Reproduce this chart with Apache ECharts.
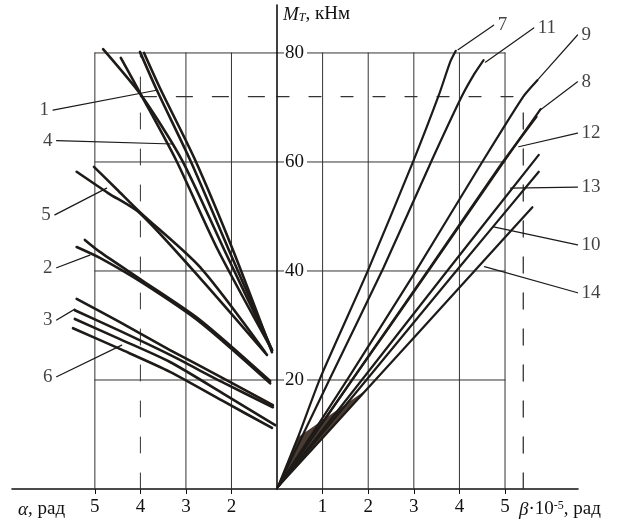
<!DOCTYPE html>
<html><head><meta charset="utf-8">
<script src="https://cdn.jsdelivr.net/npm/echarts@6/dist/echarts.min.js"></script>
<style>html,body{margin:0;padding:0;background:#fff}#c{width:618px;height:522px}</style>
</head><body><div id="c"></div>
<script>
// ---------------- data ----------------
const alphaTicks = [5, 4, 3, 2];          // α, рад (left half, values grow to the left)
const betaTicks  = [1, 2, 3, 4, 5];       // β·10^-5, рад (right half)
const mTicks     = [20, 40, 60, 80];      // M_T, кНм
const alphaGuide = 4;                     // dashed vertical on the α side
const betaGuide  = 5.4;                   // dashed vertical on the β side
const mGuide     = 72;                    // dashed horizontal level

// left half: [α, M]
const curve1a = [[4.01,80.2],[3.64,73.2],[2.91,60.4],[2.06,43.9],[1.11,25.5]];
const curve1b = [[3.92,80.0],[3.55,73.2],[2.80,60.4],[1.97,43.9],[1.11,25.1]];
const curve4a = [[4.82,80.7],[3.97,72.1],[3.09,60.4],[2.16,43.9],[1.11,25.5]];
const curve4b = [[4.43,79.1],[3.97,72.1],[3.22,60.4],[2.30,43.9],[1.11,25.5]];
const curve5a = [[5.40,58.2],[4.71,54.3],[4.01,50.6],[2.69,38.7],[1.22,24.6]];
const curve5b = [[5.02,59.1],[4.52,55.0],[4.01,50.8],[2.69,40.7],[1.26,25.1]];
const curve2a = [[5.40,44.4],[4.89,42.4],[3.95,37.8],[2.69,30.6],[1.15,19.4]];
const curve2b = [[5.22,45.7],[4.89,43.5],[3.95,38.2],[2.69,31.0],[1.15,19.8]];
const curve3a = [[5.40,34.9],[4.45,30.6],[3.35,25.5],[2.20,20.4],[1.09,15.4]];
const curve3b = [[5.44,32.8],[4.45,29.0],[3.35,24.6],[2.20,19.6],[1.09,15.0]];
const curve6a = [[5.44,31.2],[4.45,27.5],[3.35,23.3],[2.20,17.6],[1.04,11.7]];
const curve6b = [[5.48,29.5],[4.45,25.7],[3.35,21.5],[2.20,16.2],[1.11,11.2]];

// right half: [β, M]
const line7  = [[0.02,0.4],[0.46,9.5],[0.95,20.4],[2.00,40.2],[3.00,60.4],[3.55,72.3],[3.80,78.4],[3.92,80.4]];
const line11 = [[0.02,0.4],[1.18,20.6],[2.33,40.5],[3.40,60.4],[4.05,72.0],[4.33,76.2],[4.53,78.7]];
const line9  = [[0.02,0.4],[1.52,19.8],[3.03,39.8],[4.50,60.0],[5.40,72.0],[5.71,75.0]];
const line8  = [[0.02,0.4],[1.65,20.0],[3.32,40.0],[4.97,60.0],[5.78,69.7]];
const line12 = [[0.02,0.4],[1.61,19.6],[3.27,39.6],[4.90,59.4],[5.69,68.3]];
const line13 = [[0.02,0.4],[1.86,20.0],[3.73,40.0],[5.74,61.3]];
const line10 = [[0.02,0.4],[1.96,20.0],[3.93,40.0],[5.74,58.2]];
const line14 = [[0.02,0.4],[1.96,18.2],[4.33,40.0],[5.60,51.7]];

// curve labels with leader lines: label anchor -> point on curve
const leftNotes = [
  {name:'1', at:[5.92,69.5], to:[3.62,73.2]},
  {name:'4', at:[5.84,63.9], to:[3.29,63.3]},
  {name:'5', at:[5.88,50.3], to:[4.74,55.2]},
  {name:'2', at:[5.84,40.6], to:[5.11,42.9]},
  {name:'3', at:[5.84,31.0], to:[5.44,33.0]},
  {name:'6', at:[5.84,20.6], to:[4.41,26.4]}
];
const rightNotes = [
  {name:'7',  at:[4.75,85.1], to:[3.97,80.6]},
  {name:'11', at:[5.63,84.6], to:[4.57,78.3]},
  {name:'9',  at:[6.59,83.3], to:[5.71,75.0]},
  {name:'8',  at:[6.59,74.7], to:[5.78,69.6]},
  {name:'12', at:[6.59,65.3], to:[5.30,62.8]},
  {name:'13', at:[6.59,55.4], to:[5.12,55.2]},
  {name:'10', at:[6.59,44.8], to:[4.75,48.1]},
  {name:'14', at:[6.59,36.0], to:[4.55,40.8]}
];

// ---------------- chart ----------------
const INK = '#1d1a18';
const GRIDC = '#333333';
const FONT = '"Liberation Serif","DejaVu Serif",serif';
const mTop = Math.max(...mTicks);

function poly(data, g, width, color, dash, z, smooth) {
  return {type:'line', xAxisIndex:g, yAxisIndex:g, data:data, symbol:'none', showSymbol:false,
    smooth: smooth || false, clip:false, silent:true, animation:false, z:z,
    lineStyle:{width:width, color:color, type:dash || 'solid', cap:'round', join:'round'}};
}
const DASH = [16, 20];
const series = [];

// left gridlines
alphaTicks.forEach(a => series.push(poly([[a,0],[a,mTop]], 0, 1, GRIDC, a === alphaGuide ? DASH : 'solid', 1)));
mTicks.forEach(m => series.push(poly([[Math.max(...alphaTicks),m],[1,m]], 0, 1, GRIDC, 'solid', 1)));
series.push(poly([[alphaGuide,mGuide],[1,mGuide]], 0, 1.3, GRIDC, DASH, 1));
// right gridlines
betaTicks.forEach(b => series.push(poly([[b,0],[b,mTop]], 1, 1, GRIDC, 'solid', 1)));
mTicks.forEach(m => series.push(poly([[0,m],[Math.max(...betaTicks),m]], 1, 1, GRIDC, 'solid', 1)));
series.push(poly([[0,mGuide],[betaGuide,mGuide]], 1, 1.3, GRIDC, [12,20], 1));
series.push(poly([[betaGuide,0],[betaGuide,mGuide]], 1, 1.3, GRIDC, DASH, 1));

// curves
[curve1a,curve1b,curve4a,curve4b,curve5a,curve5b,curve2a,curve2b,curve3a,curve3b,curve6a,curve6b]
  .forEach(c => series.push(poly(c, 0, 2.6, INK, 'solid', 3, 0.25)));
[line7,line11,line9,line8,line12,line13,line10,line14]
  .forEach(c => series.push(poly(c, 1, 2.2, INK, 'solid', 3, 0.2)));

// dark wedge where the right-hand lines converge
const wedge = [line7[0], line7[1], line14[1]];
series.push({type:'custom', xAxisIndex:1, yAxisIndex:1, data:[[0,0]], silent:true, z:2, clip:false,
  renderItem: (p, api) => ({type:'polygon', shape:{points: wedge.map(pt => api.coord(pt))},
    style:{fill:'#4a3c33'}})});

// leaders + labels
leftNotes.forEach(n => series.push(poly([n.at, n.to], 0, 1.2, INK, 'solid', 3)));
rightNotes.forEach(n => series.push(poly([n.at, n.to], 1, 1.2, INK, 'solid', 3)));
const lbl = (pos) => ({show:true, position:pos, distance:4, formatter:'{b}', fontFamily:FONT, fontSize:19, color:'#111'});
series.push({type:'scatter', xAxisIndex:0, yAxisIndex:0, symbolSize:0, silent:true, z:4, clip:false,
  data: leftNotes.map(n => ({name:n.name, value:n.at})), label: lbl('left')});
series.push({type:'scatter', xAxisIndex:1, yAxisIndex:1, symbolSize:0, silent:true, z:4, clip:false,
  data: rightNotes.map(n => ({name:n.name, value:n.at})), label: lbl('right')});

const axisLine = {show:true, onZero:false, lineStyle:{color:'#111', width:1.6}};
const tickLbl = (vals) => ({customValues: vals, fontFamily:FONT, fontSize:19, color:'#111', margin:9});

const option = {
  animation:false,
  backgroundColor:'#fff',
  grid:[
    {left:12, width:265, top:5, bottom:33},
    {left:277, right:40, top:5, bottom:33}
  ],
  xAxis:[
    {type:'value', gridIndex:0, inverse:true, min:1, max:6.82, interval:1, axisLine:axisLine,
      axisTick:{show:true, customValues:alphaTicks, length:5, lineStyle:{color:'#111'}},
      axisLabel:tickLbl(alphaTicks), splitLine:{show:false}},
    {type:'value', gridIndex:1, min:0, max:6.6, interval:1, axisLine:axisLine,
      axisTick:{show:true, customValues:betaTicks, length:5, lineStyle:{color:'#111'}},
      axisLabel:tickLbl(betaTicks), splitLine:{show:false}}
  ],
  yAxis:[
    {type:'value', gridIndex:0, min:0, max:88.8, interval:20, show:false},
    {type:'value', gridIndex:1, min:0, max:88.8, interval:20, z:10,
      axisLine:axisLine, axisTick:{show:false}, splitLine:{show:false},
      axisLabel:{inside:true, customValues:mTicks, margin:7, fontFamily:FONT, fontSize:19, color:'#111',
        backgroundColor:'#fff', padding:[0,3,0,1]}}
  ],
  graphic:[
    {type:'text', left:283, top:5, z:20, style:{text:'{i|M}{sub|T}{n|, кНм}', fill:'#111',
      rich:{i:{fontFamily:FONT, fontSize:19, fontStyle:'italic'}, sub:{fontFamily:FONT, fontSize:12, fontStyle:'italic', verticalAlign:'bottom'},
            n:{fontFamily:FONT, fontSize:19}}}},
    {type:'text', left:18, top:500, z:20, style:{text:'{i|α}{n|, рад}', fill:'#111',
      rich:{i:{fontFamily:FONT, fontSize:19, fontStyle:'italic'}, n:{fontFamily:FONT, fontSize:19}}}},
    {type:'text', left:519, top:500, z:20, style:{text:'{i|β}{n|·10}{s|-5}{n|, рад}', fill:'#111',
      rich:{i:{fontFamily:FONT, fontSize:19, fontStyle:'italic'}, n:{fontFamily:FONT, fontSize:19},
            s:{fontFamily:FONT, fontSize:12, verticalAlign:'top'}}}}
  ],
  series: series
};
const chart = echarts.init(document.getElementById('c'), null, {renderer:'canvas'});
chart.setOption(option);
</script></body></html>
